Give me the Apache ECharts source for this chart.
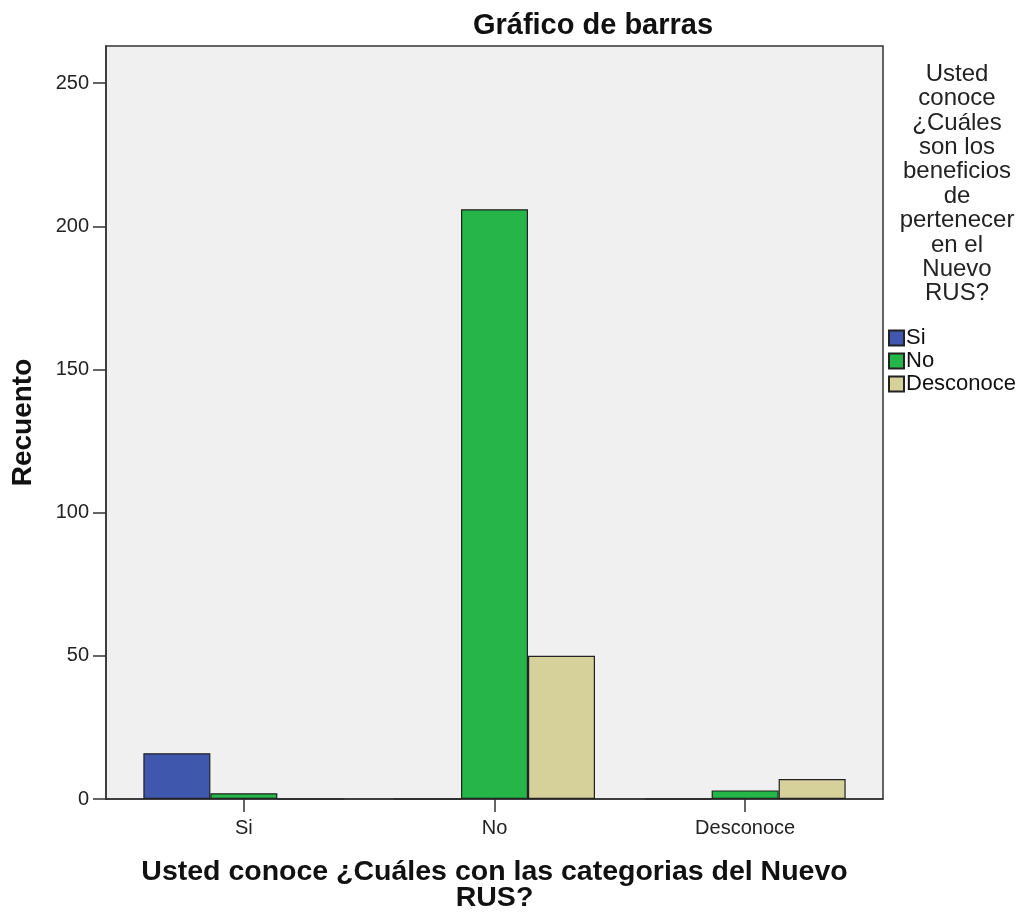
<!DOCTYPE html>
<html><head><meta charset="utf-8">
<script src="https://cdn.jsdelivr.net/npm/echarts@6/dist/echarts.min.js"></script>
<style>html,body{margin:0;padding:0;background:#fff}#c{width:1023px;height:913px}</style>
</head><body><div id="c"></div>
<script>
const categories = ['Si', 'No', 'Desconoce'];
const seriesNames = ['Si', 'No', 'Desconoce'];
const valuesSi = [16, 0, 0];
const valuesNo = [2, 206, 3];
const valuesDesconoce = [0, 50, 7];
const yTicks = [0, 50, 100, 150, 200, 250];
const colors = ['#3f57ad', '#25b548', '#d6d09a'];
const legendTitle = ['Usted', 'conoce', '¿Cuáles', 'son los', 'beneficios', 'de', 'pertenecer', 'en el', 'Nuevo', 'RUS?'];

const FONT = '"Liberation Sans", Arial, sans-serif';
const allVals = [valuesSi, valuesNo, valuesDesconoce];
const chart = echarts.init(document.getElementById('c'));
chart.setOption({
  animation: false,
  backgroundColor: '#ffffff',
  textStyle: { fontFamily: FONT },
  title: [
    { text: 'Gráfico de barras', left: 588, top: 6, textAlign: 'center',
      textStyle: { fontFamily: FONT, fontSize: 29, fontWeight: 'bold', color: '#111' } },
    { text: legendTitle.join('\n'), left: 952, top: 57, textAlign: 'center',
      textStyle: { fontFamily: FONT, fontSize: 24, fontWeight: 'normal', color: '#222', lineHeight: 24.4, align: 'center' } }
  ],
  legend: {
    orient: 'vertical', left: 883, top: 322, itemWidth: 15, itemHeight: 15, itemGap: 1,
    icon: 'rect', data: seriesNames,
    textStyle: { fontFamily: FONT, fontSize: 22, lineHeight: 22, color: '#111', padding: [0, 0, 0, -3] }
  },
  grid: { left: 106, top: 46, right: 140, bottom: 114, outerBoundsMode: 'none', containLabel: false,
    show: true, backgroundColor: '#f0f0f0', borderColor: '#333', borderWidth: 1.5 },
  xAxis: {
    type: 'value', min: -0.55, max: 2.55,
    name: 'Usted conoce ¿Cuáles con las categorias del Nuevo\nRUS?',
    nameLocation: 'middle', nameGap: 60,
    nameTextStyle: { fontFamily: FONT, fontSize: 28.5, fontWeight: 'bold', color: '#111', lineHeight: 26 },
    splitLine: { show: false },
    axisLine: { show: true, onZero: false, lineStyle: { color: '#333', width: 1.5 } },
    axisTick: { show: true, customValues: [0, 1, 2], length: 13, lineStyle: { color: '#333', width: 1.5 } },
    axisLabel: { customValues: [0, 1, 2], formatter: v => categories[Math.round(v)], fontFamily: FONT, fontSize: 20, color: '#222', margin: 19 }
  },
  yAxis: {
    type: 'value', min: 0, max: 263,
    name: 'Recuento', nameLocation: 'middle', nameGap: 69, nameRotate: 90,
    nameTextStyle: { fontFamily: FONT, fontSize: 28, fontWeight: 'bold', color: '#111' },
    splitLine: { show: false },
    axisLine: { show: true, onZero: false, lineStyle: { color: '#333', width: 1.5 } },
    axisTick: { show: true, customValues: yTicks, length: 13, lineStyle: { color: '#333', width: 1.5 } },
    axisLabel: { customValues: yTicks, fontFamily: FONT, fontSize: 20, color: '#222', margin: 17 }
  },
  series: seriesNames.map((n, i) => ({
    name: n, type: 'bar', barWidth: 67, barGap: '0%',
    data: allVals[i].map((v, j) => [j, v]),
    itemStyle: { color: colors[i], borderColor: '#222', borderWidth: 1.2 }
  }))
});
</script></body></html>
